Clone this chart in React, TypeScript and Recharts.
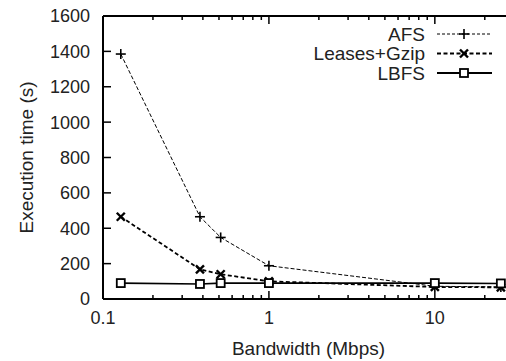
import { Line, LineChart, XAxis, YAxis } from "recharts";

const bandwidth = [0.128, 0.384, 0.512, 1, 10, 25];
const afs = [1385, 465, 348, 188, 72, 68];
const leasesGzip = [465, 168, 140, 100, 68, 66];
const lbfs = [90, 85, 90, 90, 90, 88];

const xTicks = [0.1, 0.2, 0.3, 0.4, 0.5, 0.6, 0.7, 0.8, 0.9, 1, 2, 3, 4, 5, 6, 7, 8, 9, 10, 20, 30];
const xLabels = [0.1, 1, 10];
const yTicks = [0, 200, 400, 600, 800, 1000, 1200, 1400, 1600];

const data = bandwidth.map((bw, i) => ({
  bw,
  afs: afs[i],
  leases: leasesGzip[i],
  lbfs: lbfs[i],
}));

const FONT = "'Liberation Sans', Arial, sans-serif";
const TXT = "#222";

const isMajor = (v: number) => xLabels.includes(v);

const BottomTick = (props: any) => {
  const { x, y, payload } = props;
  const v = payload.value;
  const axisY = y - 12;
  const len = isMajor(v) ? 8 : 4;
  return (
    <g>
      <line x1={x} x2={x} y1={axisY} y2={axisY - len} stroke="#000" strokeWidth={1.5} />
      {isMajor(v) && (
        <text x={x} y={y} dy="0.72em" textAnchor="middle" fontSize={18} fill={TXT} fontFamily={FONT}>
          {v}
        </text>
      )}
    </g>
  );
};

const TopTick = (props: any) => {
  const { x, y, payload } = props;
  const len = isMajor(payload.value) ? 8 : 4;
  return <line x1={x} x2={x} y1={y} y2={y + len} stroke="#000" strokeWidth={1.5} />;
};

const LeftTick = (props: any) => {
  const { x, y, payload } = props;
  const axisX = x + 13;
  return (
    <g>
      <line x1={axisX} x2={axisX + 8} y1={y} y2={y} stroke="#000" strokeWidth={1.5} />
      <text x={x} y={y} dy="0.36em" textAnchor="end" fontSize={18} fill={TXT} fontFamily={FONT}>
        {payload.value}
      </text>
    </g>
  );
};

const RightTick = (props: any) => {
  const { x, y } = props;
  return <line x1={x} x2={x - 8} y1={y} y2={y} stroke="#000" strokeWidth={1.5} />;
};

const Plus = (props: any) => {
  const { cx, cy } = props;
  if (cx == null || cy == null) return null;
  return (
    <g stroke="#000" strokeWidth={1.6}>
      <line x1={cx - 5} x2={cx + 5} y1={cy} y2={cy} />
      <line x1={cx} x2={cx} y1={cy - 5} y2={cy + 5} />
    </g>
  );
};

const Cross = (props: any) => {
  const { cx, cy } = props;
  if (cx == null || cy == null) return null;
  return (
    <g stroke="#000" strokeWidth={2.4}>
      <line x1={cx - 4} x2={cx + 4} y1={cy - 4} y2={cy + 4} />
      <line x1={cx - 4} x2={cx + 4} y1={cy + 4} y2={cy - 4} />
    </g>
  );
};

const Square = (props: any) => {
  const { cx, cy } = props;
  if (cx == null || cy == null) return null;
  return <rect x={cx - 4} y={cy - 4} width={8} height={8} fill="#fff" stroke="#000" strokeWidth={1.8} />;
};

const legendRows = [
  { name: "AFS", dash: "3 2", width: 1, Marker: Plus },
  { name: "Leases+Gzip", dash: "4 2.5", width: 2, Marker: Cross },
  { name: "LBFS", dash: undefined, width: 1.8, Marker: Square },
];

const LegendBox = () => (
  <svg width={200} height={70} style={{ position: "absolute", left: 300, top: 20 }}>
    {legendRows.map((r, i) => {
      const y = 14 + i * 19.5;
      return (
        <g key={r.name}>
          <text x={125} y={y} dy="0.36em" textAnchor="end" fontSize={19} fill={TXT} fontFamily={FONT}>
            {r.name}
          </text>
          <line x1={137} x2={192} y1={y} y2={y} stroke="#000" strokeWidth={r.width} strokeDasharray={r.dash} />
          <r.Marker cx={164} cy={y} />
        </g>
      );
    })}
  </svg>
);

export default function App() {
  return (
    <div style={{ position: "absolute", left: 0, top: 0, width: 530, height: 361, background: "#fff" }}>
      <LineChart width={530} height={361} data={data} margin={{ top: 0, right: 0, bottom: 0, left: 0 }}>
        <XAxis
          xAxisId="bottom"
          dataKey="bw"
          type="number"
          scale="log"
          domain={[0.1, 30]}
          allowDataOverflow
          ticks={xTicks}
          interval={0}
          height={62}
          tickSize={0}
          tickMargin={12}
          tick={<BottomTick />}
          axisLine={{ stroke: "#000", strokeWidth: 2 }}
          label={{
            value: "Bandwidth (Mbps)",
            position: "insideBottom",
            offset: 6,
            style: { fontSize: 19, fill: TXT, fontFamily: FONT },
          }}
        />
        <XAxis
          xAxisId="top"
          orientation="top"
          dataKey="bw"
          type="number"
          scale="log"
          domain={[0.1, 30]}
          allowDataOverflow
          ticks={xTicks}
          interval={0}
          height={16}
          tickSize={0}
          tickMargin={0}
          tick={<TopTick />}
          axisLine={{ stroke: "#000", strokeWidth: 2 }}
        />
        <YAxis
          yAxisId="left"
          type="number"
          domain={[0, 1600]}
          ticks={yTicks}
          interval={0}
          width={103}
          tickSize={0}
          tickMargin={13}
          tick={<LeftTick />}
          axisLine={{ stroke: "#000", strokeWidth: 2 }}
          label={{
            value: "Execution time (s)",
            angle: -90,
            position: "insideLeft",
            offset: 26,
            style: { textAnchor: "middle", fontSize: 19, fill: TXT, fontFamily: FONT },
          }}
        />
        <YAxis
          yAxisId="right"
          orientation="right"
          type="number"
          domain={[0, 1600]}
          ticks={yTicks}
          interval={0}
          width={16}
          tickSize={0}
          tickMargin={0}
          tick={<RightTick />}
          axisLine={{ stroke: "#000", strokeWidth: 2 }}
        />
        <Line
          xAxisId="bottom"
          yAxisId="left"
          dataKey="afs"
          stroke="#000"
          strokeWidth={1}
          strokeDasharray="4 2"
          dot={<Plus />}
          activeDot={false}
          isAnimationActive={false}
        />
        <Line
          xAxisId="bottom"
          yAxisId="left"
          dataKey="leases"
          stroke="#000"
          strokeWidth={1.8}
          strokeDasharray="4 2.5"
          dot={<Cross />}
          activeDot={false}
          isAnimationActive={false}
        />
        <Line
          xAxisId="bottom"
          yAxisId="left"
          dataKey="lbfs"
          stroke="#000"
          strokeWidth={1.6}
          dot={<Square />}
          activeDot={false}
          isAnimationActive={false}
        />
      </LineChart>
      <LegendBox />
    </div>
  );
}
